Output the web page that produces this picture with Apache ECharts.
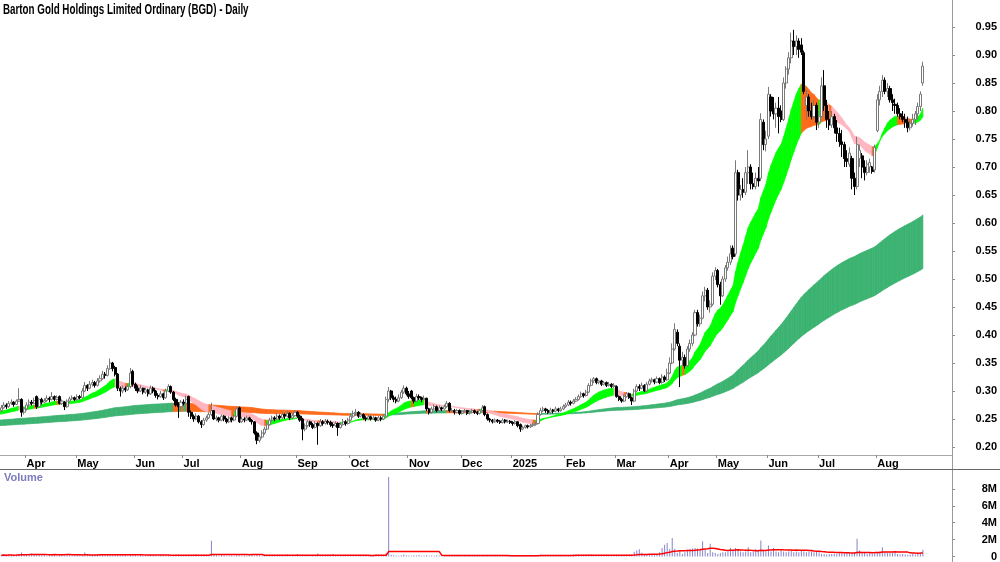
<!DOCTYPE html>
<html><head><meta charset="utf-8">
<script src="https://cdn.jsdelivr.net/npm/echarts@6/dist/echarts.min.js"></script>
<style>html,body{margin:0;padding:0;background:#fff}#c{width:1000px;height:562px}</style>
</head><body><div id="c"></div>
<script>
// ---- DATA ----
const titleText = 'Barton Gold Holdings Limited Ordinary (BGD) - Daily';
const monthLabels = ['Mar','Apr','May','Jun','Jul','Aug','Sep','Oct','Nov','Dec','2025','Feb','Mar','Apr','May','Jun','Jul','Aug'];
// daily bars: [open, high, low, close]
const m24_03 = [[0.265,0.275,0.262,0.270],[0.270,0.280,0.268,0.275],[0.275,0.278,0.268,0.272],[0.272,0.282,0.270,0.278],[0.278,0.285,0.275,0.280],[0.280,0.282,0.272,0.276],[0.276,0.285,0.275,0.282],[0.282,0.305,0.280,0.285],[0.285,0.287,0.254,0.262],[0.262,0.272,0.258,0.268]];
const m24_04 = [[0.268,0.280,0.265,0.275],[0.275,0.285,0.272,0.280],[0.280,0.284,0.274,0.278],[0.278,0.288,0.276,0.283],[0.290,0.292,0.268,0.272],[0.272,0.288,0.270,0.285],[0.285,0.288,0.276,0.280],[0.280,0.287,0.278,0.283],[0.283,0.292,0.280,0.287],[0.287,0.290,0.280,0.285],[0.285,0.298,0.283,0.290],[0.290,0.292,0.282,0.285],[0.285,0.292,0.283,0.288],[0.290,0.292,0.276,0.278],[0.278,0.285,0.275,0.282],[0.280,0.282,0.266,0.272],[0.272,0.285,0.270,0.282],[0.282,0.290,0.280,0.286],[0.286,0.292,0.284,0.288],[0.288,0.290,0.282,0.285]];
const m24_05 = [[0.285,0.294,0.283,0.290],[0.290,0.293,0.285,0.288],[0.288,0.305,0.287,0.300],[0.300,0.316,0.298,0.310],[0.310,0.312,0.300,0.305],[0.305,0.318,0.303,0.312],[0.312,0.320,0.308,0.315],[0.315,0.318,0.306,0.310],[0.310,0.323,0.308,0.318],[0.318,0.328,0.315,0.322],[0.322,0.336,0.320,0.330],[0.330,0.334,0.322,0.328],[0.328,0.346,0.326,0.340],[0.340,0.358,0.338,0.350],[0.350,0.352,0.335,0.340],[0.342,0.345,0.326,0.330],[0.330,0.332,0.300,0.305],[0.305,0.308,0.290,0.300],[0.300,0.310,0.296,0.305],[0.305,0.308,0.298,0.302],[0.302,0.312,0.300,0.308],[0.308,0.341,0.305,0.332],[0.335,0.338,0.308,0.312]];
const m24_06 = [[0.312,0.315,0.300,0.305],[0.305,0.310,0.296,0.300],[0.300,0.310,0.298,0.305],[0.305,0.306,0.294,0.298],[0.298,0.306,0.295,0.302],[0.302,0.304,0.290,0.295],[0.295,0.310,0.293,0.305],[0.305,0.308,0.296,0.300],[0.300,0.302,0.288,0.292],[0.292,0.296,0.285,0.290],[0.290,0.300,0.288,0.295],[0.295,0.297,0.284,0.288],[0.288,0.304,0.286,0.300],[0.300,0.312,0.298,0.308],[0.308,0.310,0.295,0.298],[0.298,0.300,0.282,0.285],[0.285,0.288,0.272,0.275],[0.275,0.280,0.252,0.272],[0.272,0.284,0.268,0.280]];
const m24_07 = [[0.280,0.285,0.274,0.278],[0.278,0.292,0.276,0.285],[0.290,0.292,0.254,0.262],[0.262,0.265,0.250,0.255],[0.255,0.258,0.245,0.250],[0.250,0.260,0.248,0.255],[0.255,0.257,0.242,0.245],[0.245,0.248,0.234,0.240],[0.240,0.252,0.238,0.248],[0.248,0.256,0.245,0.252],[0.252,0.262,0.250,0.258],[0.258,0.279,0.255,0.265],[0.265,0.266,0.248,0.250],[0.250,0.256,0.246,0.252],[0.252,0.254,0.244,0.248],[0.248,0.258,0.246,0.255],[0.255,0.257,0.246,0.250],[0.250,0.252,0.242,0.245],[0.245,0.255,0.243,0.252],[0.252,0.254,0.244,0.248],[0.248,0.258,0.246,0.255],[0.255,0.272,0.253,0.268],[0.270,0.272,0.243,0.245]];
const m24_08 = [[0.245,0.254,0.243,0.250],[0.250,0.253,0.244,0.248],[0.248,0.256,0.246,0.252],[0.252,0.254,0.245,0.248],[0.248,0.250,0.240,0.245],[0.245,0.246,0.222,0.225],[0.225,0.228,0.205,0.212],[0.212,0.222,0.208,0.218],[0.218,0.230,0.215,0.225],[0.225,0.236,0.222,0.232],[0.232,0.244,0.230,0.240],[0.240,0.252,0.238,0.248],[0.248,0.256,0.245,0.252],[0.252,0.255,0.246,0.250],[0.250,0.260,0.248,0.255],[0.255,0.258,0.248,0.252],[0.252,0.263,0.250,0.258],[0.258,0.260,0.250,0.255],[0.255,0.265,0.253,0.260],[0.260,0.262,0.248,0.252],[0.252,0.260,0.250,0.256],[0.256,0.266,0.254,0.262]];
const m24_09 = [[0.262,0.264,0.252,0.255],[0.255,0.258,0.245,0.248],[0.250,0.252,0.212,0.232],[0.232,0.242,0.228,0.238],[0.238,0.248,0.235,0.245],[0.245,0.247,0.236,0.240],[0.240,0.243,0.232,0.235],[0.235,0.246,0.233,0.242],[0.242,0.244,0.204,0.238],[0.238,0.250,0.236,0.245],[0.245,0.248,0.238,0.242],[0.242,0.250,0.240,0.246],[0.246,0.249,0.240,0.244],[0.244,0.247,0.236,0.240],[0.240,0.244,0.234,0.238],[0.238,0.246,0.236,0.242],[0.242,0.244,0.220,0.235],[0.235,0.244,0.233,0.240],[0.240,0.250,0.238,0.245],[0.245,0.248,0.238,0.242],[0.242,0.252,0.240,0.248]];
const m24_10 = [[0.248,0.260,0.246,0.255],[0.255,0.265,0.252,0.260],[0.260,0.268,0.256,0.262],[0.262,0.264,0.252,0.255],[0.255,0.262,0.253,0.258],[0.258,0.260,0.249,0.252],[0.252,0.255,0.246,0.250],[0.250,0.258,0.248,0.254],[0.254,0.256,0.247,0.250],[0.250,0.256,0.248,0.252],[0.252,0.254,0.245,0.248],[0.248,0.256,0.246,0.252],[0.252,0.255,0.246,0.250],[0.250,0.258,0.248,0.255],[0.255,0.290,0.254,0.285],[0.285,0.307,0.280,0.300],[0.300,0.302,0.284,0.288],[0.288,0.292,0.280,0.285],[0.285,0.290,0.278,0.282],[0.282,0.294,0.280,0.288],[0.288,0.302,0.286,0.298],[0.298,0.310,0.295,0.305],[0.305,0.308,0.292,0.295]];
const m24_11 = [[0.295,0.300,0.286,0.290],[0.300,0.302,0.285,0.288],[0.288,0.290,0.278,0.282],[0.282,0.295,0.280,0.290],[0.290,0.294,0.284,0.288],[0.288,0.290,0.280,0.285],[0.285,0.292,0.283,0.287],[0.287,0.288,0.264,0.268],[0.268,0.270,0.258,0.262],[0.262,0.272,0.260,0.268],[0.268,0.276,0.266,0.272],[0.272,0.274,0.262,0.265],[0.265,0.274,0.263,0.270],[0.270,0.272,0.264,0.268],[0.268,0.276,0.266,0.272],[0.272,0.282,0.270,0.278],[0.278,0.280,0.262,0.265],[0.265,0.270,0.262,0.265],[0.265,0.268,0.258,0.262],[0.262,0.268,0.260,0.265],[0.265,0.267,0.257,0.260]];
const m24_12 = [[0.260,0.266,0.258,0.263],[0.263,0.268,0.261,0.265],[0.265,0.266,0.257,0.260],[0.260,0.265,0.258,0.262],[0.262,0.268,0.260,0.265],[0.265,0.267,0.259,0.262],[0.262,0.264,0.257,0.260],[0.260,0.268,0.258,0.265],[0.265,0.275,0.263,0.270],[0.272,0.274,0.255,0.258],[0.258,0.260,0.247,0.250],[0.250,0.252,0.244,0.248],[0.248,0.250,0.242,0.245],[0.245,0.251,0.243,0.248],[0.248,0.250,0.243,0.246],[0.246,0.248,0.241,0.244],[0.244,0.251,0.242,0.248],[0.248,0.250,0.242,0.245],[0.245,0.249,0.243,0.246],[0.246,0.248,0.241,0.244]];
const m25_01 = [[0.244,0.246,0.238,0.242],[0.242,0.248,0.240,0.245],[0.245,0.246,0.235,0.238],[0.240,0.242,0.227,0.232],[0.232,0.238,0.230,0.235],[0.235,0.240,0.233,0.238],[0.238,0.240,0.233,0.236],[0.236,0.241,0.234,0.238],[0.238,0.243,0.236,0.240],[0.240,0.245,0.238,0.242],[0.242,0.262,0.240,0.258],[0.258,0.270,0.256,0.265],[0.265,0.272,0.262,0.268],[0.268,0.270,0.261,0.265],[0.265,0.268,0.259,0.262],[0.262,0.270,0.260,0.266],[0.266,0.268,0.260,0.264],[0.264,0.272,0.262,0.268],[0.268,0.270,0.262,0.265],[0.265,0.272,0.263,0.268],[0.268,0.276,0.266,0.272]];
const m25_02 = [[0.272,0.279,0.270,0.275],[0.275,0.284,0.273,0.280],[0.280,0.283,0.274,0.278],[0.278,0.286,0.276,0.282],[0.282,0.289,0.280,0.285],[0.285,0.294,0.283,0.290],[0.290,0.299,0.288,0.295],[0.295,0.297,0.288,0.292],[0.292,0.302,0.290,0.298],[0.298,0.314,0.296,0.310],[0.310,0.322,0.308,0.318],[0.318,0.325,0.314,0.322],[0.322,0.324,0.312,0.315],[0.315,0.320,0.312,0.318],[0.318,0.320,0.309,0.312],[0.312,0.318,0.310,0.315],[0.315,0.317,0.307,0.310],[0.310,0.316,0.308,0.312],[0.312,0.314,0.305,0.308],[0.308,0.314,0.306,0.310]];
const m25_03 = [[0.308,0.310,0.288,0.290],[0.290,0.292,0.282,0.285],[0.285,0.288,0.279,0.282],[0.282,0.294,0.280,0.290],[0.290,0.298,0.288,0.295],[0.295,0.297,0.286,0.288],[0.288,0.290,0.275,0.282],[0.282,0.304,0.280,0.300],[0.300,0.312,0.298,0.308],[0.308,0.312,0.300,0.305],[0.305,0.315,0.303,0.310],[0.310,0.312,0.298,0.300],[0.300,0.316,0.298,0.312],[0.312,0.322,0.310,0.318],[0.318,0.324,0.315,0.320],[0.320,0.322,0.312,0.316],[0.316,0.326,0.314,0.322],[0.322,0.324,0.312,0.315],[0.315,0.330,0.313,0.325],[0.325,0.328,0.316,0.320],[0.320,0.340,0.318,0.332]];
const m25_04 = [[0.332,0.360,0.330,0.350],[0.350,0.385,0.348,0.375],[0.375,0.421,0.372,0.410],[0.405,0.410,0.380,0.385],[0.380,0.385,0.307,0.355],[0.355,0.370,0.345,0.360],[0.360,0.365,0.340,0.345],[0.345,0.380,0.343,0.375],[0.375,0.392,0.370,0.385],[0.385,0.405,0.380,0.400],[0.400,0.445,0.398,0.440],[0.440,0.445,0.415,0.420],[0.420,0.436,0.415,0.430],[0.430,0.478,0.428,0.470],[0.470,0.486,0.460,0.480],[0.480,0.484,0.445,0.450],[0.450,0.462,0.440,0.455],[0.455,0.512,0.452,0.505],[0.505,0.521,0.498,0.515]];
const m25_05 = [[0.515,0.518,0.485,0.490],[0.490,0.495,0.454,0.470],[0.470,0.505,0.468,0.500],[0.500,0.525,0.495,0.520],[0.520,0.540,0.515,0.530],[0.530,0.560,0.525,0.545],[0.555,0.560,0.535,0.540],[0.545,0.712,0.540,0.690],[0.690,0.695,0.640,0.650],[0.650,0.668,0.640,0.660],[0.660,0.680,0.645,0.655],[0.655,0.700,0.650,0.690],[0.690,0.730,0.670,0.700],[0.700,0.705,0.660,0.670],[0.670,0.690,0.660,0.665],[0.665,0.690,0.660,0.680],[0.680,0.700,0.665,0.675],[0.680,0.796,0.675,0.785],[0.780,0.785,0.730,0.740],[0.740,0.765,0.728,0.750]];
const m25_06 = [[0.755,0.843,0.750,0.830],[0.825,0.830,0.790,0.800],[0.800,0.825,0.785,0.795],[0.795,0.815,0.770,0.805],[0.805,0.825,0.760,0.790],[0.800,0.810,0.780,0.785],[0.785,0.860,0.782,0.850],[0.850,0.880,0.840,0.875],[0.875,0.905,0.865,0.895],[0.895,0.940,0.885,0.925],[0.925,0.945,0.900,0.915],[0.915,0.935,0.900,0.925],[0.925,0.930,0.895,0.910],[0.918,0.930,0.900,0.905],[0.904,0.908,0.830,0.835],[0.810,0.838,0.785,0.825],[0.825,0.830,0.790,0.800],[0.800,0.815,0.785,0.790],[0.790,0.820,0.785,0.810],[0.810,0.815,0.766,0.780]];
const m25_07 = [[0.780,0.800,0.770,0.790],[0.790,0.860,0.788,0.845],[0.845,0.873,0.800,0.810],[0.810,0.820,0.770,0.785],[0.785,0.800,0.766,0.775],[0.775,0.800,0.770,0.790],[0.790,0.795,0.760,0.770],[0.770,0.784,0.745,0.760],[0.760,0.770,0.736,0.745],[0.745,0.766,0.718,0.740],[0.740,0.745,0.700,0.715],[0.715,0.730,0.700,0.710],[0.705,0.735,0.700,0.725],[0.715,0.720,0.660,0.680],[0.680,0.690,0.650,0.665],[0.665,0.754,0.660,0.740],[0.715,0.740,0.700,0.730],[0.720,0.725,0.680,0.700],[0.700,0.712,0.676,0.690],[0.690,0.712,0.685,0.705],[0.700,0.715,0.690,0.708],[0.700,0.702,0.688,0.692],[0.695,0.740,0.690,0.735]];
const m25_08 = [[0.765,0.830,0.762,0.820],[0.820,0.845,0.810,0.835],[0.835,0.864,0.825,0.855],[0.855,0.860,0.830,0.835],[0.835,0.850,0.825,0.840],[0.840,0.845,0.815,0.820],[0.820,0.830,0.800,0.815],[0.812,0.822,0.795,0.810],[0.810,0.815,0.790,0.795],[0.795,0.805,0.785,0.790],[0.790,0.800,0.780,0.785],[0.785,0.795,0.770,0.780],[0.780,0.790,0.762,0.770],[0.770,0.785,0.765,0.778],[0.778,0.795,0.772,0.785],[0.785,0.800,0.775,0.795],[0.795,0.815,0.785,0.808],[0.808,0.835,0.800,0.830],[0.850,0.888,0.845,0.880]];
// daily volume, millions of shares
const v24_03 = [0.15,0.2,0.1,0.25,0.15,0.1,0.2,0.3,0.47,0.2];
const v24_04 = [0.25,0.3,0.35,0.2,0.3,0.25,0.15,0.2,0.1,0.15,0.2,0.25,0.1,0.15,0.2,0.1,0.28,0.25,0.1,0.15];
const v24_05 = [0.2,0.15,0.1,0.47,0.2,0.25,0.15,0.2,0.15,0.25,0.2,0.15,0.26,0.28,0.15,0.2,0.25,0.15,0.3,0.2,0.1,0.28,0.2];
const v24_06 = [0.15,0.1,0.2,0.15,0.1,0.12,0.2,0.15,0.1,0.1,0.15,0.12,0.1,0.2,0.1,0.15,0.2,0.25,0.15];
const v24_07 = [0.1,0.15,0.2,0.15,0.1,0.28,0.1,0.15,0.2,0.1,0.15,1.85,0.2,0.15,0.1,0.2,0.15,0.1,0.12,0.15,0.1,0.2,0.15];
const v24_08 = [0.1,0.15,0.1,0.12,0.2,0.1,0.25,0.15,0.1,0.12,0.1,0.15,0.2,0.1,0.12,0.1,0.15,0.1,0.25,0.12,0.1,0.15];
const v24_09 = [0.3,0.1,0.15,0.12,0.1,0.15,0.1,0.12,0.35,0.15,0.1,0.12,0.15,0.1,0.3,0.12,0.1,0.15,0.1,0.12,0.1];
const v24_10 = [0.15,0.1,0.12,0.15,0.1,0.12,0.15,0.1,0.12,0.1,0.25,0.1,0.15,0.12,0.43,9.4,0.2,0.15,0.12,0.1,0.15,0.25,0.15];
const v24_11 = [0.12,0.1,0.15,0.12,0.18,0.1,0.12,0.15,0.1,0.12,0.1,0.15,0.12,0.1,0.12,0.15,0.1,0.12,0.1,0.15,0.1];
const v24_12 = [0.1,0.12,0.1,0.08,0.1,0.12,0.1,0.08,0.1,0.12,0.1,0.08,0.1,0.2,0.08,0.1,0.08,0.1,0.12,0.08];
const v25_01 = [0.05,0.08,0.1,0.12,0.1,0.08,0.1,0.12,0.1,0.08,0.15,0.2,0.15,0.12,0.1,0.15,0.12,0.1,0.12,0.15,0.1];
const v25_02 = [0.12,0.15,0.2,0.25,0.2,0.15,0.12,0.1,0.15,0.2,0.25,0.15,0.12,0.1,0.12,0.15,0.1,0.12,0.1,0.15];
const v25_03 = [0.2,0.15,0.12,0.1,0.15,0.2,0.25,0.55,0.7,0.86,0.45,0.3,0.2,0.25,0.2,0.15,0.3,0.5,1.0,1.4,1.6];
const v25_04 = [0.9,2.2,0.9,0.4,0.7,0.3,0.5,0.8,0.9,0.95,1.0,0.95,0.8,1.8,0.8,0.4,1.5,0.5,0.4];
const v25_05 = [0.3,0.4,0.5,0.5,0.6,1.0,0.7,1.0,0.8,0.6,0.5,0.6,1.1,0.5,0.6,0.9,0.7,1.9,0.8,0.6];
const v25_06 = [1.3,0.6,1.0,0.6,0.5,0.7,0.6,0.5,0.6,0.7,0.5,0.6,0.5,0.7,0.6,0.5,0.55,0.6,0.5,0.55];
const v25_07 = [0.5,0.3,0.3,0.25,0.3,0.3,0.35,0.3,0.4,0.4,0.35,0.4,0.4,0.35,0.4,2.1,0.7,0.5,0.4,0.3,0.4,0.35,0.4];
const v25_08 = [0.5,0.6,1.1,0.5,0.4,0.45,0.4,0.5,0.3,0.25,0.3,0.25,0.2,0.25,0.3,0.25,0.35,0.4,0.8];
const priceTicks = [0.20,0.25,0.30,0.35,0.40,0.45,0.50,0.55,0.60,0.65,0.70,0.75,0.80,0.85,0.90,0.95];
const volTicks = [0,2e6,4e6,6e6,8e6];
// moving-average ribbons (EMA periods) and their starting levels read at the left edge
const shortPeriods = [15,18,21,24,27,30];
const shortSeed = [0.263,0.262,0.261,0.260,0.259,0.258];
const longPeriods = [150,170,190,210,230,250];
const longSeed = [0.248,0.246,0.244,0.242,0.240,0.238];
const volMAPeriod = 21;
const blankBars = 11;

// ---- BUILD ----
const months = [m24_03,m24_04,m24_05,m24_06,m24_07,m24_08,m24_09,m24_10,m24_11,m24_12,m25_01,m25_02,m25_03,m25_04,m25_05,m25_06,m25_07,m25_08];
const vols = [v24_03,v24_04,v24_05,v24_06,v24_07,v24_08,v24_09,v24_10,v24_11,v24_12,v25_01,v25_02,v25_03,v25_04,v25_05,v25_06,v25_07,v25_08];
const cats = [], candle = [], closes = [], monthStart = {};
months.forEach((m, mi) => m.forEach((b, k) => {
  if (k === 0 && mi > 0) monthStart[cats.length] = monthLabels[mi];
  cats.push(monthLabels[mi] + '-' + k);
  candle.push([b[0], b[3], b[2], b[1]]);
  closes.push(b[3]);
}));
const volume = [];
vols.forEach(v => v.forEach(x => volume.push(x * 1e6)));
const N = candle.length;
for (let i = 0; i < blankBars; i++) cats.push('b' + i);

function emaSet(periods, seeds) {
  return periods.map((p, j) => { const a = 2 / (p + 1); let e = seeds[j]; return closes.map(c => (e = e + a * (c - e))); });
}
// state: 0 = every average rising, 1 = every average falling, 2 = mixed
function bandData(sets) {
  const out = [];
  for (let i = 0; i < N; i++) {
    const vals = sets.map(s => s[i]);
    let st = 0;
    if (i > 0) {
      const rising = sets.every(s => s[i] >= s[i - 1]);
      const falling = sets.every(s => s[i] < s[i - 1]);
      st = rising ? 0 : (falling ? 1 : 2);
    }
    const hi = Math.max(...vals), lo = Math.min(...vals);
    const prev = i > 0 ? out[i - 1] : [i, hi, lo, 0, hi, lo];
    out.push([i, hi, lo, st, prev[1], prev[2]]);
  }
  return out;
}
const shortBand = bandData(emaSet(shortPeriods, shortSeed));
const longBand = bandData(emaSet(longPeriods, longSeed));
const volMA = volume.map((v, i) => { const s = Math.max(0, i - volMAPeriod + 1); let t = 0; for (let k = s; k <= i; k++) t += volume[k]; return t / (i - s + 1); });

function bandRenderer(colors) {
  return function (params, api) {
    const i = api.value(0);
    const x0 = i > 0 ? i - 1 : i;
    const col = colors[api.value(3)];
    const pts = [api.coord([x0, api.value(4)]), api.coord([i, api.value(1)]), api.coord([i, api.value(2)]), api.coord([x0, api.value(5)])];
    if (i === 0) { pts[0][0] = params.coordSys.x; pts[3][0] = params.coordSys.x; }
    return { type: 'polygon', shape: { points: pts }, style: { fill: col, stroke: col, lineWidth: 0.7 }, silent: true };
  };
}

const pMin = 0.20 - 8 / 560, pMax = 0.20 + 447 / 560;
const font = 'Liberation Sans, Arial, sans-serif';
const chart = echarts.init(document.getElementById('c'), null, { renderer: 'canvas' });
chart.setOption({
  animation: false,
  backgroundColor: '#fff',
  grid: [
    { left: 0, right: 48, top: 0, height: 455 },
    { left: 0, right: 48, top: 470, height: 87 }
  ],
  xAxis: [
    { type: 'category', data: cats, gridIndex: 0, boundaryGap: true,
      axisLine: { show: true, lineStyle: { color: '#aaaaaa', width: 1 } },
      axisTick: { show: true, length: 3, interval: (idx) => monthStart[idx] !== undefined, lineStyle: { color: '#888' } },
      axisLabel: { interval: (idx) => monthStart[idx] !== undefined, formatter: (v, idx) => monthStart[idx] || '', align: 'left', margin: 3, fontFamily: font, fontWeight: 'bold', fontSize: 11, color: '#000' },
      splitLine: { show: false } },
    { type: 'category', data: cats, gridIndex: 1, boundaryGap: true, show: false }
  ],
  yAxis: [
    { type: 'value', gridIndex: 0, position: 'right', min: pMin, max: pMax, splitLine: { show: false },
      axisLine: { show: false },
      axisTick: { show: true, inside: false, length: 3, customValues: priceTicks, lineStyle: { color: '#888' } },
      axisLabel: { customValues: priceTicks, formatter: v => v.toFixed(2), align: 'right', margin: 45, fontFamily: font, fontWeight: 'bold', fontSize: 11, color: '#000' } },
    { type: 'value', gridIndex: 1, position: 'right', min: 0, max: 87 / 8.5 * 1e6, splitLine: { show: false },
      axisLine: { show: false },
      axisTick: { show: true, length: 3, customValues: volTicks, lineStyle: { color: '#888' } },
      axisLabel: { customValues: volTicks, formatter: v => v === 0 ? '0' : (v / 1e6) + 'M', align: 'right', margin: 45, fontFamily: font, fontWeight: 'bold', fontSize: 11, color: '#000' } }
  ],
  series: [
    { type: 'custom', name: 'long', xAxisIndex: 0, yAxisIndex: 0, z: 1, renderItem: bandRenderer(['#3cb371', '#ff6a1a', '#ff6a1a']), data: longBand, encode: { x: 0, y: [1, 2] } },
    { type: 'custom', name: 'short', xAxisIndex: 0, yAxisIndex: 0, z: 2, renderItem: bandRenderer(['#00ff00', '#ffb6c1', '#ff6a1a']), data: shortBand, encode: { x: 0, y: [1, 2] } },
    { type: 'candlestick', name: 'BGD', xAxisIndex: 0, yAxisIndex: 0, z: 3, barWidth: 2.6, data: candle,
      itemStyle: { color: '#ffffff', color0: '#000000', borderColor: '#7a7a7a', borderColor0: '#000000', borderWidth: 1 } },
    { type: 'bar', name: 'Volume', xAxisIndex: 1, yAxisIndex: 1, barWidth: 1, data: volume, itemStyle: { color: '#8484cc' } },
    { type: 'line', name: 'VolMA', xAxisIndex: 1, yAxisIndex: 1, data: volMA, showSymbol: false, symbol: 'none', lineStyle: { color: '#ff0000', width: 1.5 }, z: 4 }
  ],
  graphic: [
    { type: 'text', left: 3, top: 3, scaleX: 0.7, style: { text: titleText, fill: '#000', font: 'bold 14px Liberation Sans, Arial, sans-serif' }, z: 10 },
    { type: 'line', shape: { x1: 952.5, y1: 0, x2: 952.5, y2: 562 }, style: { stroke: '#999', lineWidth: 1 }, z: 10 },
    { type: 'line', shape: { x1: 0, y1: 469.5, x2: 1000, y2: 469.5 }, style: { stroke: '#666', lineWidth: 1 }, z: 10 },
    { type: 'text', left: 4, top: 472, style: { text: 'Volume', fill: '#7b7bbd', font: 'bold 11px Liberation Sans, Arial, sans-serif' }, z: 10 }
  ]
});
</script></body></html>
